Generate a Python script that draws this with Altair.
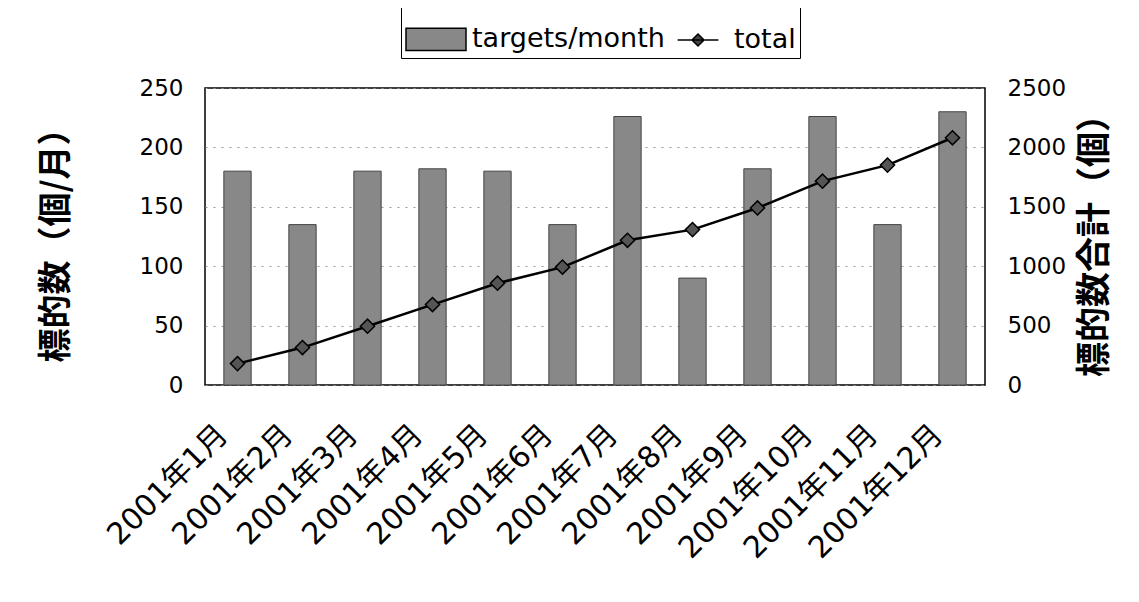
import altair as alt
import pandas as pd

months = ["2001年1月", "2001年2月", "2001年3月", "2001年4月", "2001年5月", "2001年6月",
          "2001年7月", "2001年8月", "2001年9月", "2001年10月", "2001年11月", "2001年12月"]
per_month = [180, 135, 180, 182, 180, 135, 226, 90, 182, 226, 135, 230]
totals = [180, 315, 495, 677, 857, 992, 1218, 1308, 1490, 1716, 1851, 2081]
series_names = ["targets/month", "total"]

df = pd.DataFrame({"month": months, "per_month": per_month, "total": totals})
legend_df = pd.DataFrame({"month": [months[0], months[0]], "series": series_names, "v": [None, None]})

NUM = "DejaVu Sans"
JP = "Noto Sans CJK JP"
MIX = "DejaVu Sans, Noto Sans CJK JP"

x = alt.X("month:N", sort=months,
          scale=alt.Scale(paddingInner=0.58, paddingOuter=0.29),
          axis=alt.Axis(title=None, labelAngle=-45, labelFontSize=30, labelFont=MIX,
                        labelColor="black", labelPadding=34, labelOffset=-25, labelLimit=0,
                        ticks=False, domain=False,
                        labelAlign="right", labelBaseline="top"))

left_axis = alt.Axis(title="標的数（個/月）", values=[0, 50, 100, 150, 200, 250],
                     labelFontSize=23, labelFont=NUM, labelColor="black",
                     labelPadding=22, ticks=False, domain=False,
                     grid=True, gridDash=[2, 6], gridColor="#999", gridWidth=1,
                     titleFontSize=34, titleFont=JP, titleFontWeight="bold",
                     titleColor="black", titlePadding=66)

right_axis = alt.Axis(title="標的数合計（個）", orient="right", values=[0, 500, 1000, 1500, 2000, 2500],
                      format="d",
                      labelFontSize=23, labelFont=NUM, labelColor="black",
                      labelPadding=22, ticks=False, domain=False, grid=False,
                      titleFontSize=35, titleFont=JP, titleFontWeight="bold",
                      titleColor="black", titleAngle=270, titleBaseline="top", titlePadding=12)

bars = alt.Chart(df).mark_bar(color="#888888", stroke="#444", strokeWidth=1).encode(
    x=x,
    y=alt.Y("per_month:Q", scale=alt.Scale(domain=[0, 250], nice=False), axis=left_axis),
)

bar_path = "M-1,-0.37H1V0.37H-1Z"
line_path = "M-0.68,0H0.68M0,-0.2L0.2,0L0,0.2L-0.2,0Z"

legend_layer = alt.Chart(legend_df).mark_point(filled=True, stroke="black", strokeWidth=1.5, opacity=1).encode(
    x=x,
    y=alt.Y("v:Q"),
    color=alt.Color("series:N", scale=alt.Scale(domain=series_names, range=["#888888", "#444444"]),
                    legend=alt.Legend(title=None, orient="none", legendX=196, legendY=-84,
                                      direction="horizontal", strokeColor="black",
                                      fillColor="white", padding=4, labelFontSize=27,
                                      labelFont=NUM, labelColor="black", labelLimit=0,
                                      symbolSize=3600, columnPadding=2, labelOffset=5,
                                      symbolStrokeColor="black", symbolStrokeWidth=1.5)),
    shape=alt.Shape("series:N", scale=alt.Scale(domain=series_names, range=[bar_path, line_path])),
)

frame_line = alt.Chart(legend_df).mark_rule(color="#555", strokeWidth=1).encode(
    x=alt.value(-198), y=alt.value(-88), y2=alt.value(514)
)

left = alt.layer(bars, legend_layer, frame_line)

line = alt.Chart(df).mark_line(color="black", strokeWidth=2.5).encode(
    x=x,
    y=alt.Y("total:Q", scale=alt.Scale(domain=[0, 2500], nice=False), axis=right_axis),
)
points = alt.Chart(df).mark_point(shape="diamond", filled=True, fill="#555555", stroke="black",
                                  strokeWidth=1.5, size=200, opacity=1).encode(
    x=x,
    y=alt.Y("total:Q"),
)
right = alt.layer(line, points)

chart = alt.layer(left, right).resolve_scale(y="independent").properties(
    width=780, height=297,
    autosize=alt.AutoSizeParams(type="none"),
    padding={"left": 197, "top": 80, "right": 146, "bottom": 209},
    background="white",
).configure_view(stroke="black", strokeWidth=1.5)

chart.save("out.html", embed_options={"renderer": "svg", "actions": False})
